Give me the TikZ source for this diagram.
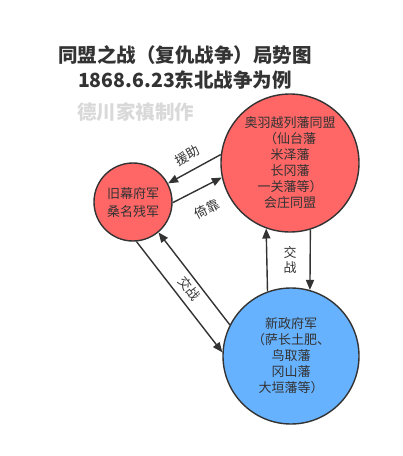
\documentclass[tikz,border=0pt]{standalone}
\usepackage{fontspec}
\setmainfont{Noto Sans CJK SC}
\usetikzlibrary{arrows.meta,positioning}
\tikzset{
  side/.style={circle,draw=linec,line width=1.4pt,text=linec,align=center,inner sep=0pt,font=\fontsize{13}{16}\selectfont},
  link/.style={linec,line width=1.4pt,-{Triangle[length=10pt,width=8pt]}},
  tag/.style={text=linec,inner sep=0pt,align=center,font=\fontsize{13}{15}\selectfont}
}

\begin{document}
\begin{tikzpicture}[x=1pt,y=-1pt]
    \colorlet{linec}{black!80}
    \colorlet{redc}{red!60!white}
    \colorlet{bluec}{rgb,255:red,102;green,178;blue,255}
    \useasboundingbox (0,0) rectangle (403,456);

    \node [text=linec,align=center,font=\bfseries\fontsize{19.5}{25}\selectfont] (title) at (185,67)
        {同盟之战（复仇战争）局势图\\1868.6.23东北战争为例};
    \node [text=black!15,font=\bfseries\fontsize{19.5}{24}\selectfont] (mark) at (136,112) {德川家禛制作};

    \node [side,fill=redc,minimum size=78pt,font=\fontsize{13}{18}\selectfont] (shogun) at (133,202)
        {旧幕府军\\桑名残军};
    \node [side,fill=redc,minimum size=138pt] (alliance) at (290,163)
        {奥羽越列藩同盟\\（仙台藩\\米泽藩\\长冈藩\\一关藩等）\\会庄同盟};
    \node [side,fill=bluec,minimum size=136pt] (govt) at (291,356)
        {新政府军\\（萨长土肥、\\鸟取藩\\冈山藩\\大垣藩等）};

    \draw [link] (alliance.173) -- node [tag,sloped,above=8.5pt] {援助} (shogun.28);
    \draw [link] (shogun.-1) -- node [tag,sloped,below=14.5pt] {倚靠} (alliance.192);
    \draw [link] (govt.153) -- (shogun.-50);
    \draw [link] (shogun.-85) -- node [tag,sloped,above=6.5pt] {交战} (govt.177);
    \draw [link] (govt.110) -- node [tag,right=16pt] {交\\战} (alliance.250);
    \draw [link] (alliance.-73) -- (govt.74);
\end{tikzpicture}
\end{document}
